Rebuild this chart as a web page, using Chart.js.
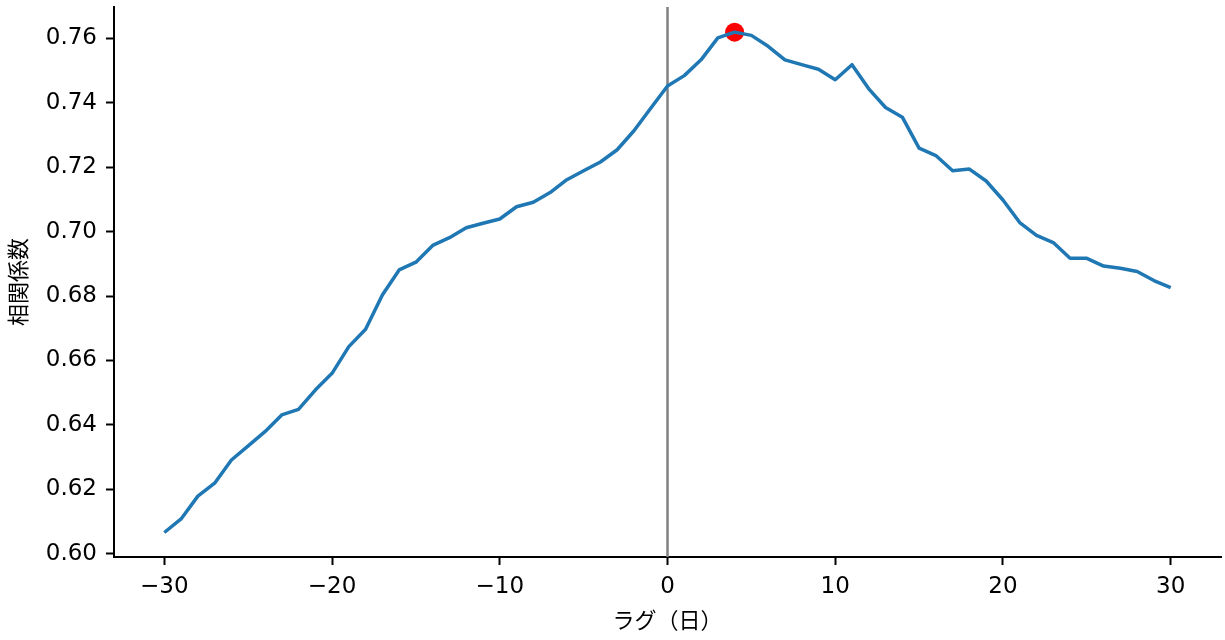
<!DOCTYPE html>
<html>
<head>
<meta charset="utf-8">
<script src="https://cdn.jsdelivr.net/npm/chart.js@4.4.0/dist/chart.umd.min.js"></script>
<style>
  html, body { margin: 0; padding: 0; background: #fff; }
  #wrap { width: 1225px; height: 640px; }
</style>
</head>
<body>
<div id="wrap"><canvas id="lagChart" width="1225" height="640"></canvas></div>
<script>
// lag (days) and correlation
var LAGS = [-30, -29, -28, -27, -26, -25, -24, -23, -22, -21,
            -20, -19, -18, -17, -16, -15, -14, -13, -12, -11,
            -10, -9, -8, -7, -6, -5, -4, -3, -2, -1,
            0, 1, 2, 3, 4, 5, 6, 7, 8, 9,
            10, 11, 12, 13, 14, 15, 16, 17, 18, 19,
            20, 21, 22, 23, 24, 25, 26, 27, 28, 29, 30];
var CORR = [0.6066, 0.6108, 0.6179, 0.6219, 0.6291, 0.6335, 0.6379, 0.6431, 0.6448, 0.6508,
            0.6560, 0.6643, 0.6697, 0.6803, 0.6881, 0.6905, 0.6957, 0.6981, 0.7012, 0.7026,
            0.7039, 0.7077, 0.7091, 0.7121, 0.7161, 0.7189, 0.7216, 0.7254, 0.7313, 0.7383,
            0.7452, 0.7484, 0.7533, 0.7601, 0.7619, 0.7609, 0.7575, 0.7533, 0.7518, 0.7504,
            0.7471, 0.7518, 0.7443, 0.7385, 0.7355, 0.7259, 0.7236, 0.7189, 0.7194, 0.7157,
            0.7098, 0.7028, 0.6988, 0.6966, 0.6917, 0.6917, 0.6893, 0.6886, 0.6876, 0.6848, 0.6826];

var X_TICKS = [-30, -20, -10, 0, 10, 20, 30];
var Y_TICKS = [0.60, 0.62, 0.64, 0.66, 0.68, 0.70, 0.72, 0.74, 0.76];
var X_MIN = -33, X_MAX = 33;
var Y_MIN = 0.599, Y_MAX = 0.7697;
var ZERO_LAG = 0;

var X_TITLE = 'ラグ（日）';
var Y_TITLE = '相関係数';

(function () {
  var points = [];
  var best = 0;
  for (var i = 0; i < LAGS.length; i++) {
    points.push({ x: LAGS[i], y: CORR[i] });
    if (CORR[i] > CORR[best]) best = i;
  }
  var peak = [{ x: LAGS[best], y: CORR[best] }];

  var tickFont = { family: '"DejaVu Sans", sans-serif', size: 23 };
  var titleFont = { family: '"Noto Sans CJK JP", sans-serif', size: 22 };

  // gray vertical line at lag 0
  var zeroLine = {
    id: 'zeroLine',
    beforeDatasetsDraw: function (chart) {
      var ctx = chart.ctx, a = chart.chartArea;
      var x = chart.scales.x.getPixelForValue(ZERO_LAG);
      ctx.save();
      ctx.strokeStyle = '#808080';
      ctx.lineWidth = 2.5;
      ctx.beginPath();
      ctx.moveTo(x, a.top);
      ctx.lineTo(x, a.bottom);
      ctx.stroke();
      ctx.restore();
    }
  };

  new Chart(document.getElementById('lagChart').getContext('2d'), {
    type: 'line',
    data: {
      datasets: [
        {
          label: 'corr', data: points,
          borderColor: '#1f77b4', backgroundColor: 'transparent',
          borderWidth: 3.5, pointRadius: 0, tension: 0,
          borderJoinStyle: 'round', fill: false, order: 1
        },
        {
          type: 'scatter', label: 'peak', data: peak,
          backgroundColor: '#ff0000', borderWidth: 0,
          pointRadius: 9.5, order: 2
        }
      ]
    },
    options: {
      responsive: false,
      animation: false,
      layout: { autoPadding: false, padding: { top: 7, right: 4, left: 0, bottom: 0 } },
      plugins: { legend: { display: false }, tooltip: { enabled: false } },
      scales: {
        x: {
          type: 'linear', min: X_MIN, max: X_MAX,
          afterBuildTicks: function (s) { s.ticks = X_TICKS.map(function (v) { return { value: v }; }); },
          afterFit: function (s) { s.height = 83; s.paddingLeft = 0; s.paddingRight = 0; },
          grid: { drawOnChartArea: false, drawTicks: true, tickLength: 8, tickColor: '#000', tickWidth: 2 },
          border: { display: true, color: '#000', width: 2 },
          ticks: {
            font: tickFont, color: '#000', padding: 8, maxRotation: 0,
            callback: function (v) { return v < 0 ? '\u2212' + Math.abs(v) : String(v); }
          },
          title: { display: true, text: X_TITLE, font: titleFont, color: '#000', padding: { top: 0, bottom: 7 } }
        },
        y: {
          type: 'linear', min: Y_MIN, max: Y_MAX,
          afterBuildTicks: function (s) { s.ticks = Y_TICKS.map(function (v) { return { value: v }; }); },
          afterFit: function (s) { s.width = 114; s.paddingTop = 0; s.paddingBottom = 0; },
          grid: { drawOnChartArea: false, drawTicks: true, tickLength: 8, tickColor: '#000', tickWidth: 2 },
          border: { display: true, color: '#000', width: 2 },
          ticks: {
            font: tickFont, color: '#000', padding: 9,
            callback: function (v) { return v.toFixed(2); }
          },
          title: { display: true, text: Y_TITLE, font: titleFont, color: '#000', padding: { top: 4, bottom: 0 } }
        }
      }
    },
    plugins: [zeroLine]
  });
})();
</script>
</body>
</html>
